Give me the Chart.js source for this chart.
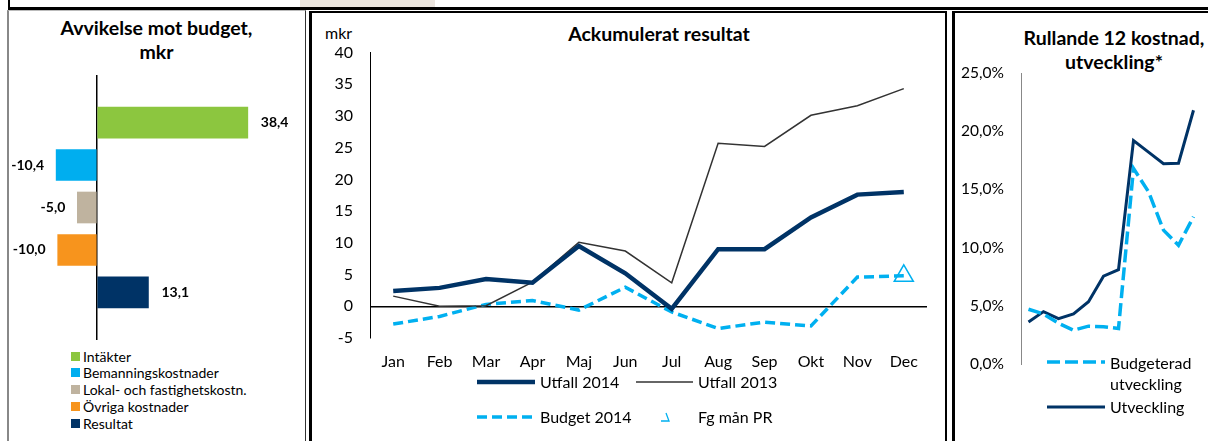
<!DOCTYPE html>
<html>
<head>
<meta charset="utf-8">
<script src="https://cdn.jsdelivr.net/npm/chart.js@4.4.1/dist/chart.umd.min.js"></script>
<style>
  body { margin: 0; width: 1208px; height: 441px; overflow: hidden; background: #fff; position: relative; font-family: Lato, 'Open Sans', sans-serif; color: #000; }
  .abs { position: absolute; }
  .title { font-weight: bold; font-size: 19.5px; line-height: 24px; text-align: center; white-space: nowrap; }
  .lg { font-size: 16px; line-height: 18px; white-space: nowrap; }
  .lg1 { font-size: 14px; line-height: 17px; white-space: nowrap; }
  .sq { width: 9px; height: 9px; }
</style>
</head>
<body>

<!-- ramar -->
<div class="abs" style="left:300px;top:0;width:135px;height:7px;background:#ebe5df"></div>
<div class="abs" style="left:8px;top:-5px;width:1220px;height:12px;border-left:2px solid #000;border-bottom:3px solid #000"></div>
<div class="abs" style="left:7px;top:10px;width:296px;height:440px;border-left:2px solid #888;border-right:1px solid #333;border-top:1px solid #bbb"></div>
<div class="abs" style="left:309px;top:11px;width:633px;height:440px;border-left:3px solid #000;border-right:2px solid #000;border-top:2px solid #000"></div>
<div class="abs" style="left:952px;top:11px;width:300px;height:440px;border-left:3px solid #000;border-top:2px solid #000"></div>

<!-- panel 1 -->
<div class="abs title" style="left:8px;top:16px;width:297px">Avvikelse mot budget,<br>mkr</div>
<canvas id="avvikelse" class="abs" style="left:9px;top:75px" width="295" height="265"></canvas>
<div id="legend1"></div>

<!-- panel 2 -->
<div class="abs title" style="left:559px;top:22px;width:200px">Ackumulerat resultat</div>
<div class="abs" style="left:325px;top:24px;font-size:16px;line-height:18px">mkr</div>
<canvas id="ackumulerat" class="abs" style="left:310px;top:40px" width="630" height="338"></canvas>

<svg class="abs" style="left:477px;top:375px" width="58" height="14"><line x1="0" y1="7" x2="58" y2="7" stroke="#003366" stroke-width="4.5"/></svg>
<div class="abs lg" style="left:540px;top:373px">Utfall 2014</div>
<svg class="abs" style="left:636px;top:375px" width="57" height="14"><line x1="0" y1="7" x2="57" y2="7" stroke="#333" stroke-width="1.5"/></svg>
<div class="abs lg" style="left:698px;top:373px">Utfall 2013</div>
<svg class="abs" style="left:477px;top:410px" width="58" height="14"><line x1="0" y1="7" x2="58" y2="7" stroke="#00b0f0" stroke-width="3.5" stroke-dasharray="10,5"/></svg>
<div class="abs lg" style="left:540px;top:408px">Budget 2014</div>
<svg class="abs" style="left:659px;top:412px" width="14" height="12"><polyline points="7,1 10,9 2,9" fill="none" stroke="#00b0f0" stroke-width="1.3"/></svg>
<div class="abs lg" style="left:698px;top:408px">Fg mån PR</div>

<!-- panel 3 -->
<div class="abs title" style="left:1014px;top:26px;width:200px">Rullande 12 kostnad,<br>utveckling*</div>
<canvas id="rullande" class="abs" style="left:961px;top:61px" width="240" height="313"></canvas>

<svg class="abs" style="left:1047px;top:355px" width="58" height="14"><line x1="0" y1="7" x2="58" y2="7" stroke="#00b0f0" stroke-width="3.5" stroke-dasharray="13,5"/></svg>
<div class="abs lg" style="left:1110px;top:352px;line-height:21px">Budgeterad<br>utveckling</div>
<svg class="abs" style="left:1047px;top:400px" width="58" height="14"><line x1="0" y1="7" x2="58" y2="7" stroke="#003366" stroke-width="3"/></svg>
<div class="abs lg" style="left:1110px;top:398px">Utveckling</div>

<script>
// Avvikelse mot budget, mkr
const avvikelseKategorier = ['Intäkter', 'Bemanningskostnader', 'Lokal- och fastighetskostn.', 'Övriga kostnader', 'Resultat'];
const avvikelseVarden = [38.4, -10.4, -5.0, -10.0, 13.1];
const avvikelseFarger = ['#8cc63f', '#00aeef', '#bfb39f', '#f7941d', '#003366'];

// Ackumulerat resultat, mkr
const manader = ['Jan', 'Feb', 'Mar', 'Apr', 'Maj', 'Jun', 'Jul', 'Aug', 'Sep', 'Okt', 'Nov', 'Dec'];
const utfall2014 = [2.4, 2.9, 4.3, 3.7, 9.5, 5.2, -0.4, 9.0, 9.0, 14.0, 17.6, 18.0];
const utfall2013 = [1.6, 0.0, 0.1, 3.8, 10.1, 8.7, 3.7, 25.7, 25.2, 30.1, 31.6, 34.3];
const budget2014 = [-2.8, -1.6, 0.3, 0.9, -0.6, 3.0, -0.9, -3.5, -2.5, -3.1, 4.6, 4.8];
const fgManPR = [null, null, null, null, null, null, null, null, null, null, null, 4.8];
const ackTicks = [-5, 0, 5, 10, 15, 20, 25, 30, 35, 40];

// Rullande 12 kostnad, utveckling (%)
const perioder = ['Jan', 'Feb', 'Mar', 'Apr', 'Maj', 'Jun', 'Jul', 'Aug', 'Sep', 'Okt', 'Nov', 'Dec'];
const budgeteradUtv = [4.7, 4.3, 3.5, 2.9, 3.25, 3.2, 3.05, 16.8, 14.8, 11.5, 10.2, 12.65];
const utveckling = [3.6, 4.5, 3.9, 4.3, 5.35, 7.55, 8.1, 19.2, 18.2, 17.2, 17.25, 21.8];

const FONT = 'Lato';
Chart.defaults.font.family = FONT;
Chart.defaults.color = '#000';

// legend panel 1
const lg1 = document.getElementById('legend1');
avvikelseKategorier.forEach((k, i) => {
    const y = 356 + i * 16.8;
    lg1.innerHTML += `<div class="abs sq" style="left:71px;top:${y - 4.5}px;background:${avvikelseFarger[i]}"></div>
        <div class="abs lg1" style="left:83px;top:${y - 8.5}px">${k}</div>`;
});

const barLabels = {
    id: 'barLabels',
    afterDatasetsDraw(chart) {
        const ctx = chart.ctx;
        ctx.save();
        ctx.font = `bold 14px ${FONT}`;
        ctx.fillStyle = '#000';
        ctx.textBaseline = 'middle';
        chart.getDatasetMeta(0).data.forEach((bar, i) => {
            const v = avvikelseVarden[i];
            ctx.textAlign = v < 0 ? 'right' : 'left';
            ctx.fillText(v.toFixed(1).replace('.', ','), bar.x + (v < 0 ? -12 : 13), bar.y);
        });
        ctx.restore();
    }
};

// y-axelns etikettmarginal ska inte flytta ritytan
const fixAxis = w => s => { s.width = w; s.paddingTop = 0; s.paddingBottom = 0; };

new Chart(document.getElementById('avvikelse'), {
    type: 'bar',
    data: {
        datasets: [{
            data: avvikelseVarden.map((v, i) => ({ x: v, y: i })),
            backgroundColor: avvikelseFarger,
            barThickness: 31
        }]
    },
    options: {
        indexAxis: 'y',
        responsive: false,
        animation: false,
        layout: { padding: 0 },
        plugins: { legend: { display: false }, tooltip: { enabled: false } },
        scales: {
            x: {
                type: 'linear', min: -22.4, max: 52.7,
                ticks: { display: false, stepSize: 10 },
                border: { display: false },
                grid: { drawTicks: false, lineWidth: 1.5, color: c => c.tick.value === 0 ? '#000' : 'transparent' }
            },
            y: { type: 'linear', min: -1.12, max: 5.12, reverse: true, offset: false, display: false, grid: { offset: false } }
        }
    },
    plugins: [barLabels]
});

new Chart(document.getElementById('ackumulerat'), {
    type: 'line',
    data: {
        labels: manader,
        datasets: [
            { label: 'Utfall 2014', data: utfall2014, borderColor: '#003366', borderWidth: 4.5, pointRadius: 0 },
            { label: 'Utfall 2013', data: utfall2013, borderColor: '#333', borderWidth: 1.5, pointRadius: 0 },
            { label: 'Budget 2014', data: budget2014, borderColor: '#00b0f0', borderWidth: 3.5, borderDash: [10, 5], pointRadius: 0 },
            { label: 'Fg mån PR', data: fgManPR, showLine: false, pointStyle: 'triangle', pointRadius: 11,
              borderColor: '#00b0f0', borderWidth: 1.5, backgroundColor: 'rgba(0,0,0,0)' }
        ]
    },
    options: {
        responsive: false,
        animation: false,
        layout: { padding: { top: 12, right: 13, left: 0, bottom: 0 } },
        plugins: { legend: { display: false }, tooltip: { enabled: false } },
        scales: {
            x: {
                offset: true,
                grid: { display: false },
                border: { display: false },
                ticks: { padding: 6, font: { size: 16 }, maxRotation: 0 },
                afterFit: s => { s.height = 40; }
            },
            y: {
                min: -5, max: 40,
                afterBuildTicks: s => { s.ticks = ackTicks.map(v => ({ value: v })); },
                ticks: { padding: 17, font: { size: 16 } },
                border: { display: true, color: '#000', width: 1 },
                grid: { drawTicks: false, lineWidth: 1.5, color: c => c.tick.value === 0 ? '#000' : 'transparent' },
                afterFit: fixAxis(60)
            }
        }
    }
});

new Chart(document.getElementById('rullande'), {
    type: 'line',
    data: {
        labels: perioder,
        datasets: [
            { label: 'Budgeterad utveckling', data: budgeteradUtv, borderColor: '#00b0f0', borderWidth: 3.5, borderDash: [13, 5], pointRadius: 0 },
            { label: 'Utveckling', data: utveckling, borderColor: '#003366', borderWidth: 3, pointRadius: 0 }
        ]
    },
    options: {
        responsive: false,
        animation: false,
        layout: { padding: { top: 12, right: 0, left: 0, bottom: 10 } },
        plugins: { legend: { display: false }, tooltip: { enabled: false } },
        scales: {
            x: { offset: true, display: false },
            y: {
                min: 0, max: 25,
                ticks: { stepSize: 5, padding: 17, font: { size: 15.5 }, callback: v => v.toFixed(1).replace('.', ',') + '%' },
                border: { display: true, color: '#888', width: 1 },
                grid: { display: false, drawTicks: false },
                afterFit: fixAxis(60)
            }
        }
    }
});
</script>
</body>
</html>
